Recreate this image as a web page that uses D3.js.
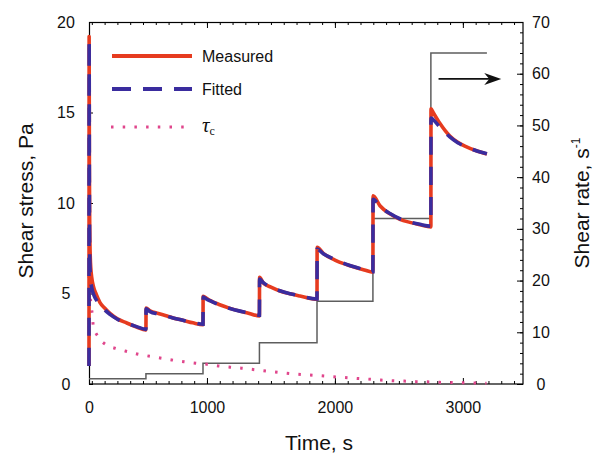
<!DOCTYPE html>
<html><head><meta charset="utf-8">
<script src="https://cdn.jsdelivr.net/npm/d3@7/dist/d3.min.js"></script>
<style>
body{margin:0;background:#fff;}
svg{display:block;font-family:Arial,"Liberation Sans",Helvetica,sans-serif;}
</style></head><body>
<svg id="chart" width="596" height="454"></svg>
<script>
// ---------- data ----------
const xTickValues = [0, 1000, 2000, 3000];
const xTickLabels = ["0", "1000", "2000", "3000"];
const xMinorTicks = d3.range(100, 3500, 100);
const yLeftTicks = [0, 5, 10, 15, 20];
const yRightTicks = [0, 10, 20, 30, 40, 50, 60, 70];
const yRightMinor = d3.range(0, 71, 2);

// shear-rate steps (s^-1) and the times they change (s)
const stepTimes = [78, 523, 969, 1410, 1860, 2297, 2750, 3188];
const shearRates = [1, 2, 4, 8, 16, 32, 64];

// measured shear stress (Pa) vs time (s)
const measured = [
  [78, 1.0], [79, 19.2], [81, 12.0], [84, 8.5], [88, 7.0], [92, 6.4], [99, 5.9], [112, 5.4],
  [135, 4.95], [164, 4.5], [200, 4.2], [242, 3.9], [300, 3.6], [373, 3.37], [450, 3.15], [523, 2.98],
  [524, 4.2], [555, 4.05], [620, 3.9], [688, 3.76], [750, 3.62], [812, 3.52], [890, 3.38], [969, 3.28],
  [970, 4.85], [1000, 4.72], [1023, 4.62], [1100, 4.38], [1180, 4.18], [1250, 4.04], [1310, 3.94], [1410, 3.76],
  [1411, 5.9], [1440, 5.58], [1500, 5.35], [1570, 5.14], [1650, 4.98], [1727, 4.86], [1860, 4.68],
  [1861, 7.55], [1909, 7.22], [2000, 6.85], [2080, 6.62], [2156, 6.45], [2230, 6.3], [2297, 6.18],
  [2298, 10.4], [2352, 9.85], [2430, 9.4], [2508, 9.1], [2586, 8.93], [2664, 8.8], [2750, 8.68],
  [2751, 15.2], [2768, 15.0], [2820, 14.4], [2898, 13.7], [2960, 13.35], [3029, 13.1], [3100, 12.9], [3188, 12.7]
];

// fitted shear stress (Pa) vs time (s)
const fitted = [
  [78, 1.0], [79, 19.0], [81, 11.0], [84, 7.0], [90, 5.8], [100, 5.3], [117, 4.9], [140, 4.6],
  [164, 4.4], [200, 4.1], [242, 3.85], [300, 3.58], [373, 3.35], [450, 3.17], [523, 3.02],
  [524, 4.15], [555, 4.0], [620, 3.86], [688, 3.74], [750, 3.62], [812, 3.52], [890, 3.4], [969, 3.3],
  [970, 4.8], [1000, 4.68], [1023, 4.6], [1100, 4.36], [1180, 4.17], [1250, 4.04], [1310, 3.95], [1410, 3.8],
  [1411, 5.8], [1440, 5.6], [1500, 5.36], [1570, 5.15], [1650, 4.99], [1727, 4.87], [1860, 4.7],
  [1861, 7.45], [1909, 7.2], [2000, 6.88], [2080, 6.64], [2156, 6.46], [2230, 6.32], [2297, 6.2],
  [2298, 10.2], [2352, 9.8], [2430, 9.42], [2508, 9.13], [2586, 8.95], [2664, 8.82], [2750, 8.72],
  [2751, 14.7], [2768, 14.6], [2820, 14.2], [2898, 13.65], [2960, 13.33], [3029, 13.1], [3100, 12.9], [3188, 12.72]
];

// critical stress tau_c (Pa) vs time (s)
const tauC = [
  [78, 6.0], [85, 5.0], [94, 4.4], [104, 3.8], [112, 3.2], [151, 2.6], [216, 2.15], [295, 1.95],
  [385, 1.78], [463, 1.64], [555, 1.53], [646, 1.42], [724, 1.33], [820, 1.23], [914, 1.15],
  [998, 1.09], [1088, 1.0], [1180, 0.93], [1271, 0.87], [1349, 0.81], [1440, 0.73], [1531, 0.66],
  [1623, 0.6], [1713, 0.54], [1805, 0.5], [1896, 0.45], [1987, 0.4], [2078, 0.36], [2170, 0.31],
  [2260, 0.27], [2359, 0.22], [2455, 0.18], [2541, 0.16], [2633, 0.13], [2724, 0.12], [2820, 0.09],
  [2912, 0.08], [3002, 0.07], [3094, 0.05], [3185, 0.04]
];

// arrow pointing to the right axis, in data units (time, shear rate)
const arrowFrom = [2810, 59];
const arrowTo = [3300, 59];

const legendLabels = ["Measured", "Fitted"];

// ---------- layout ----------
const W = 596, H = 454;
const L = 89, R = 523, T = 22, B = 384;
const RED = "#e63b1f", BLUE = "#3a2c9e", PINK = "#e0468c", GREY = "#5e5e5e";

const svg = d3.select("#chart");

const x = d3.scaleLinear().domain([78, 3470]).range([L, R]).clamp(true);
const yL = d3.scaleLinear().domain([0, 20]).range([B, T]);
const yR = d3.scaleLinear().domain([0, 70]).range([B, T]);

// ---------- axes ----------
function clean(g){ g.select(".domain").remove(); g.selectAll("line").attr("stroke","#000"); }

svg.append("g").attr("transform",`translate(0,${B})`)
  .call(d3.axisBottom(x).tickValues(xMinorTicks).tickSize(-3).tickFormat("")).call(clean);
svg.append("g").attr("transform",`translate(0,${B})`)
  .call(d3.axisBottom(x).tickValues(xTickValues).tickSize(-6).tickPadding(18)
        .tickFormat((d,i)=>xTickLabels[i]))
  .call(clean)
  .selectAll("text").attr("font-size",16).attr("fill","#111").attr("font-family","Arial, Liberation Sans, sans-serif");

svg.append("g").attr("transform",`translate(0,${T})`)
  .call(d3.axisTop(x).tickValues(xMinorTicks).tickSize(-3).tickFormat("")).call(clean);
svg.append("g").attr("transform",`translate(0,${T})`)
  .call(d3.axisTop(x).tickValues(xTickValues).tickSize(-6).tickFormat("")).call(clean);

svg.append("g").attr("transform",`translate(${L},0)`)
  .call(d3.axisLeft(yL).tickValues(yLeftTicks).tickSize(-4).tickFormat(d3.format("d")))
  .call(clean)
  .selectAll("text").attr("text-anchor","middle").attr("x",-23)
  .attr("font-size",16).attr("fill","#111").attr("font-family","Arial, Liberation Sans, sans-serif");

svg.append("g").attr("transform",`translate(${R},0)`)
  .call(d3.axisRight(yR).tickValues(yRightMinor).tickSize(-3).tickFormat("")).call(clean);
svg.append("g").attr("transform",`translate(${R},0)`)
  .call(d3.axisRight(yR).tickValues(yRightTicks).tickSize(-6).tickFormat(d3.format("d")))
  .call(clean)
  .selectAll("text").attr("text-anchor","middle").attr("x",18)
  .attr("font-size",16).attr("fill","#111").attr("font-family","Arial, Liberation Sans, sans-serif");

// frame
svg.append("rect").attr("x",L+0.5).attr("y",T+0.5).attr("width",R-L-0.5).attr("height",B-T-0.5)
  .attr("fill","none").attr("stroke","#000").attr("stroke-width",1.2);

// ---------- series ----------
const stepPts = shearRates.map((r,i)=>[stepTimes[i], r]).concat([[stepTimes[stepTimes.length-1], shearRates[shearRates.length-1]]]);
svg.append("path").datum(stepPts)
  .attr("d", d3.line().x(d=>x(d[0])).y(d=>yR(d[1])).curve(d3.curveStepAfter))
  .attr("fill","none").attr("stroke",GREY).attr("stroke-width",1.5);

const lineL = d3.line().x(d=>x(d[0])).y(d=>yL(d[1])).curve(d3.curveMonotoneX);

svg.append("path").datum(tauC).attr("d", lineL)
  .attr("fill","none").attr("stroke",PINK).attr("stroke-width",3).attr("stroke-dasharray","2.5,9.2");

svg.append("path").datum(measured).attr("d", lineL)
  .attr("fill","none").attr("stroke",RED).attr("stroke-width",3.6).attr("stroke-linejoin","round");

svg.append("path").datum(fitted).attr("d", lineL)
  .attr("fill","none").attr("stroke",BLUE).attr("stroke-width",3.6).attr("stroke-dasharray","18,12");

// arrow
svg.append("line")
  .attr("x1",x(arrowFrom[0])).attr("y1",yR(arrowFrom[1]))
  .attr("x2",x(arrowTo[0])-10).attr("y2",yR(arrowTo[1]))
  .attr("stroke","#111").attr("stroke-width",1.6);
svg.append("path")
  .attr("transform",`translate(${x(arrowTo[0])},${yR(arrowTo[1])})`)
  .attr("d","M0,0 L-17,-6 L-12,0 L-17,6 Z").attr("fill","#111");

// ---------- legend ----------
const lg = svg.append("g");
lg.append("line").attr("x1",112).attr("x2",192).attr("y1",56).attr("y2",56)
  .attr("stroke",RED).attr("stroke-width",3.8);
lg.append("line").attr("x1",112).attr("x2",192).attr("y1",89).attr("y2",89)
  .attr("stroke",BLUE).attr("stroke-width",3.8).attr("stroke-dasharray","19,12");
lg.append("line").attr("x1",111).attr("x2",192).attr("y1",127).attr("y2",127)
  .attr("stroke",PINK).attr("stroke-width",3).attr("stroke-dasharray","2.5,9.2");
lg.append("text").attr("x",202).attr("y",62).attr("font-size",16).attr("fill","#111").text(legendLabels[0]);
lg.append("text").attr("x",202).attr("y",95).attr("font-size",16).attr("fill","#111").text(legendLabels[1]);
const tt = lg.append("text").attr("x",202).attr("y",132).attr("fill","#111")
  .attr("font-family","'Liberation Serif','DejaVu Serif',serif");
tt.append("tspan").attr("font-size",21).attr("font-style","italic").text("τ");
tt.append("tspan").attr("font-size",12).attr("dy",3).text("c");

// ---------- axis titles ----------
svg.append("text").attr("x",319).attr("y",450).attr("text-anchor","middle")
  .attr("font-size",21).attr("fill","#111").text("Time, s");
svg.append("text").attr("transform","translate(33,201) rotate(-90)").attr("text-anchor","middle")
  .attr("font-size",21).attr("fill","#111").text("Shear stress, Pa");
const rt = svg.append("text").attr("transform","translate(589,203) rotate(-90)").attr("text-anchor","middle")
  .attr("font-size",21).attr("fill","#111");
rt.append("tspan").text("Shear rate, s");
rt.append("tspan").attr("font-size",12).attr("dy",-9).text("-1");
</script>
</body></html>
